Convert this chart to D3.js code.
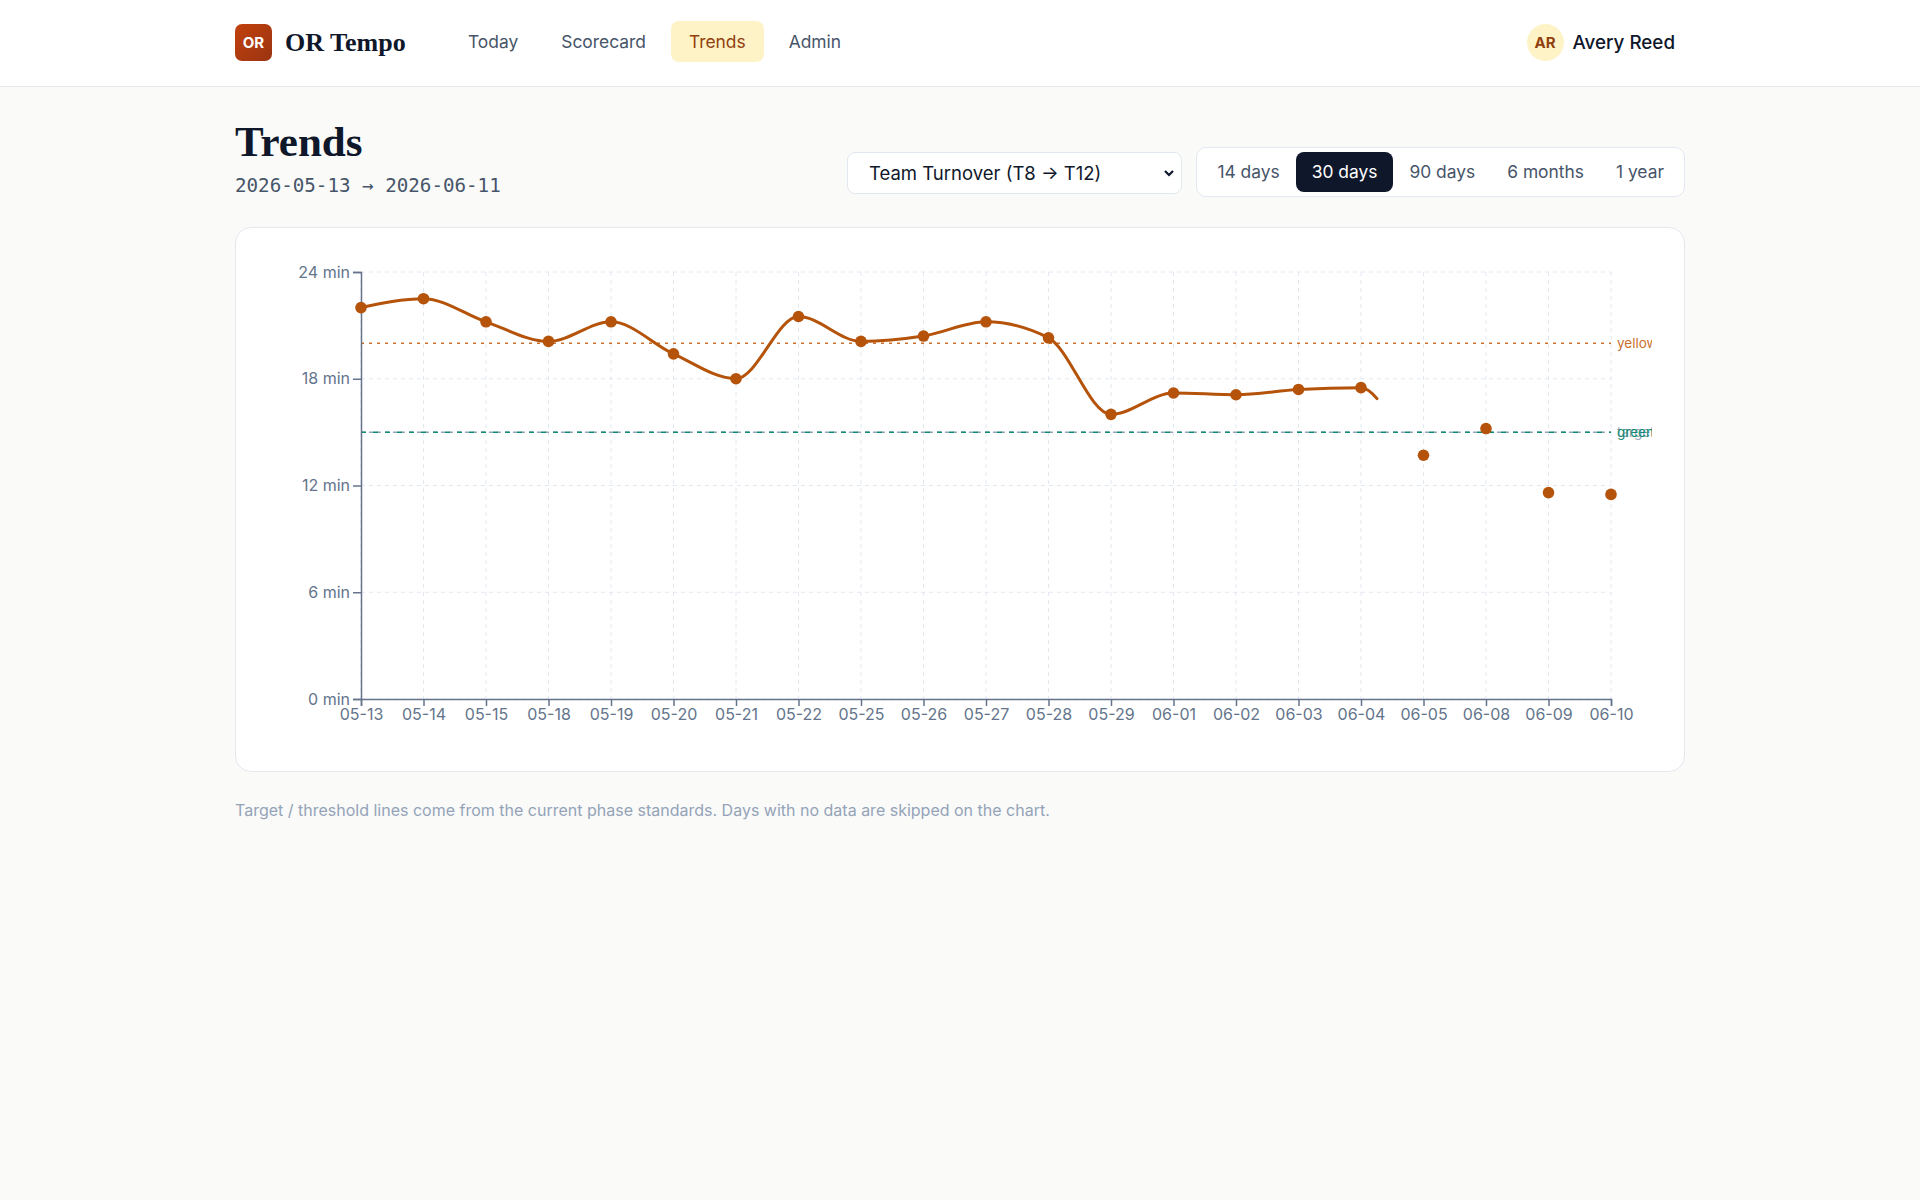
<!DOCTYPE html>
<html>
<head>
<meta charset="utf-8">
<title>OR Tempo - Trends</title>
<script src="https://cdn.jsdelivr.net/npm/d3@7"></script>
<style>
    * { box-sizing: border-box; }
    body {
        margin: 0;
        background: #fafaf9;
        font-family: Inter, "Noto Sans", sans-serif;
        color: #0f172a;
        width: 1920px;
        height: 1200px;
        overflow: hidden;
    }
    header {
        height: 87px;
        background: #fff;
        border-bottom: 1px solid #e5e7eb;
    }
    .wrap {
        position: relative;
        width: 1450px;
        margin: 0 auto;
        height: 100%;
    }
    .logo {
        position: absolute; left: 0; top: 24px;
        width: 37px; height: 37px; border-radius: 7px;
        background: linear-gradient(135deg, #c2410c, #9a3412);
        color: #fff; font-weight: 700; font-size: 15px;
        display: flex; align-items: center; justify-content: center;
    }
    .brand {
        position: absolute; left: 50px; top: 27px;
        font-family: "Liberation Serif", serif; font-weight: 700; font-size: 26px;
        line-height: 32px;
    }
    nav { position: absolute; left: 215px; top: 21px; display: flex; gap: 7px; }
    nav a {
        display: block; height: 41px; line-height: 41px; padding: 0 18px;
        border-radius: 8px; font-size: 17.4px; color: #475569; text-decoration: none;
        white-space: nowrap;
    }
    nav a.active { background: #fef3c7; color: #92400e; }
    .user { position: absolute; right: 10px; top: 24px; display: flex; align-items: center; gap: 9px; }
    .avatar {
        width: 37px; height: 37px; border-radius: 50%; background: #fef3c7; color: #92400e;
        font-weight: 700; font-size: 15px; display: flex; align-items: center; justify-content: center;
    }
    .user span { font-size: 18.8px; font-weight: 500; color: #0f172a; }

    main { position: relative; width: 1450px; margin: 0 auto; height: 1100px; }
    h1 {
        position: absolute; left: 0; top: 33px; margin: 0;
        font-family: "Liberation Serif", serif; font-weight: 700; font-size: 43px; line-height: 43px;
        color: #0f172a;
    }
    .range {
        position: absolute; left: 0; top: 88px;
        font-family: "DejaVu Sans Mono", monospace; font-size: 19.2px; line-height: 22px; color: #475569;
        white-space: nowrap;
    }
    .select {
        position: absolute; left: 612px; top: 65px; width: 335px; height: 42px;
        background: #fff; border: 1px solid #e2e8f0; border-radius: 8px;
        font-size: 18.5px; line-height: 40px; padding-left: 21px; color: #0f172a;
        white-space: nowrap;
    }
    .select svg { position: absolute; right: 6px; top: 15px; }
    .seg {
        position: absolute; right: 0; top: 60px; height: 50px;
        background: #fff; border: 1px solid #e2e8f0; border-radius: 10px;
        padding: 4px; display: flex;
    }
    .seg div {
        height: 40px; line-height: 40px; padding: 0 16px; border-radius: 8px;
        font-size: 17.4px; color: #475569; white-space: nowrap;
    }
    .seg div.active { background: #0f172a; color: #fff; }
    .card {
        position: absolute; left: 0; top: 140px; width: 1450px; height: 545px;
        background: #fff; border: 1px solid #e5e7eb; border-radius: 16px;
    }
    .card svg { position: absolute; left: 23px; top: 22px; }
    .note {
        position: absolute; left: 0; top: 713px; font-size: 16px; color: #94a3b8;
        white-space: nowrap;
    }
    .axis text { font-family: Inter, sans-serif; font-size: 16px; fill: #64748b; }
    .axis path, .axis line { stroke: #64748b; stroke-width: 1.5; }
    .grid line { stroke: #e2e8f0; stroke-dasharray: 4 4; }
</style>
</head>
<body>
<header>
    <div class="wrap">
        <div class="logo">OR</div>
        <div class="brand">OR Tempo</div>
        <nav>
            <a>Today</a>
            <a>Scorecard</a>
            <a class="active">Trends</a>
            <a>Admin</a>
        </nav>
        <div class="user"><div class="avatar">AR</div><span>Avery Reed</span></div>
    </div>
</header>
<main>
    <h1>Trends</h1>
    <div class="range">2026-05-13 → 2026-06-11</div>
    <div class="select">Team Turnover (T8 → T12)
        <svg width="12" height="10" viewBox="0 0 12 10"><path d="M2 3 L6 7 L10 3" fill="none" stroke="#0f172a" stroke-width="2.2"/></svg>
    </div>
    <div class="seg">
        <div>14 days</div><div class="active">30 days</div><div>90 days</div><div>6 months</div><div>1 year</div>
    </div>
    <div class="card" id="card"></div>
    <div class="note">Target / threshold lines come from the current phase standards. Days with no data are skipped on the chart.</div>
</main>
<script>
// Data (minutes per day, days with no data skipped)
const dates = ['05-13', '05-14', '05-15', '05-18', '05-19', '05-20', '05-21', '05-22', '05-25', '05-26',
    '05-27', '05-28', '05-29', '06-01', '06-02', '06-03', '06-04', '06-05', '06-08', '06-09', '06-10'];
const values = [22.0, 22.5, 21.2, 20.1, 21.2, 19.4, 18.0, 21.5, 20.1, 20.4,
    21.2, 20.3, 16.0, 17.2, 17.1, 17.4, 17.5, 13.7, 15.2, 11.6, 11.5];
const yTicks = [0, 6, 12, 18, 24];
const thresholdNames = ['yellow', 'target', 'green'];
const thresholdValues = [20, 15, 15];
const thresholdColors = ['#c8702e', '#94a3b8', '#0f8a72'];
const thresholdDash = ['3 5', '4 4', '5 7'];
// line was mid-animation: drawn up to a bit past this day
const lineRevealDay = '06-04';
const lineRevealExtra = 0.25;

const width = 1393, height = 496;
const margin = { top: 22, right: 41, bottom: 47, left: 102 };
const innerW = width - margin.left - margin.right;
const innerH = height - margin.top - margin.bottom;

const svg = d3.select('#card').append('svg')
    .attr('width', width)
    .attr('height', height);

const g = svg.append('g')
    .attr('transform', `translate(${margin.left},${margin.top})`);

const x = d3.scalePoint().domain(dates).range([0, innerW]);
const y = d3.scaleLinear().domain([0, 24]).range([innerH, 0]);

// Grid lines
g.append('g').attr('class', 'grid')
    .selectAll('line').data(yTicks).join('line')
    .attr('x1', 0).attr('x2', innerW)
    .attr('y1', d => y(d)).attr('y2', d => y(d));

g.append('g').attr('class', 'grid')
    .selectAll('line').data(dates).join('line')
    .attr('x1', d => x(d)).attr('x2', d => x(d))
    .attr('y1', 0).attr('y2', innerH);

// Threshold lines
const th = thresholdNames.map((name, i) => ({
    name, value: thresholdValues[i], color: thresholdColors[i], dash: thresholdDash[i]
}));

g.append('g').selectAll('line').data(th).join('line')
    .attr('x1', 0).attr('x2', innerW)
    .attr('y1', d => y(d.value)).attr('y2', d => y(d.value))
    .attr('stroke', d => d.color)
    .attr('stroke-width', 1.5)
    .attr('stroke-dasharray', d => d.dash);

g.append('g').selectAll('text').data(th).join('text')
    .attr('x', innerW + 6)
    .attr('y', d => y(d.value))
    .attr('dy', '0.35em')
    .attr('font-size', 13.5)
    .attr('font-family', 'Inter, sans-serif')
    .attr('fill', d => d.color)
    .text(d => d.name);

// Axes
g.append('g').attr('class', 'axis')
    .call(d3.axisLeft(y).tickValues(yTicks).tickSize(8).tickPadding(3).tickFormat(d => `${d} min`));

g.append('g').attr('class', 'axis')
    .attr('transform', `translate(0,${innerH})`)
    .call(d3.axisBottom(x).tickSize(7).tickPadding(3));

// Line
const points = dates.map((d, i) => ({ date: d, value: values[i] }));
const line = d3.line()
    .x(d => x(d.date))
    .y(d => y(d.value))
    .curve(d3.curveMonotoneX);

const path = g.append('path')
    .datum(points)
    .attr('fill', 'none')
    .attr('stroke', '#b45309')
    .attr('stroke-width', 3)
    .attr('stroke-linecap', 'round')
    .attr('d', line);

// partial reveal (as caught mid-transition)
const node = path.node();
const total = node.getTotalLength();
const stopX = x(lineRevealDay) + x.step() * lineRevealExtra;
let lo = 0, hi = total;
for (let k = 0; k < 40; k++) {
    const mid = (lo + hi) / 2;
    if (node.getPointAtLength(mid).x < stopX) lo = mid; else hi = mid;
}
path.attr('stroke-dasharray', `${lo} ${total}`);

// Dots
g.append('g').selectAll('circle').data(points).join('circle')
    .attr('cx', d => x(d.date))
    .attr('cy', d => y(d.value))
    .attr('r', 5.8)
    .attr('fill', '#b45309');
</script>
</body>
</html>
